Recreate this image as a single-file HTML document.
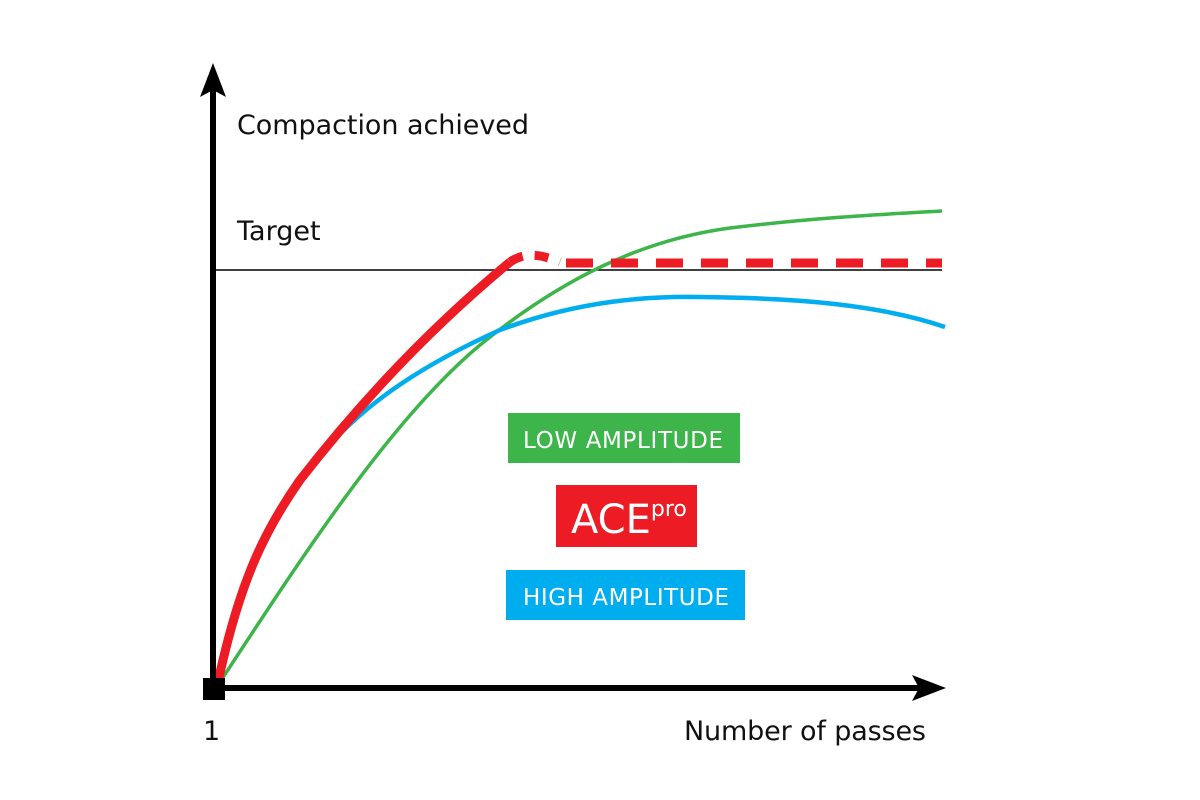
<!DOCTYPE html>
<html><head><meta charset="utf-8"><style>
html,body{margin:0;padding:0;background:#fff;}
svg{display:block;}
text{font-family:"DejaVu Sans","Liberation Sans",sans-serif;}
</style></head><body>
<svg width="1200" height="800" viewBox="0 0 1200 800" xmlns="http://www.w3.org/2000/svg">
<rect width="1200" height="800" fill="#fff"/>
<line x1="213" y1="270" x2="942" y2="270" stroke="#000" stroke-width="1.6"/>
<path d="M220,682 C300,560 390,420 480,345 C560,280 640,240 730,228 C820,217 890,214 942,211" fill="none" stroke="#3db54a" stroke-width="3.5"/>
<path d="M218,682 C240,580 265,530 300,480 C345,420 400,375 500,330 C580,300 650,296 700,297 C800,298 880,305 945,327" fill="none" stroke="#00aeef" stroke-width="4.5"/>
<path d="M218,682 C240,580 265,530 300,480 C370,390 440,320 510,262" fill="none" stroke="#ed1c24" stroke-width="9"/>
<path d="M510,262 C525,252 540,254 560,262" fill="none" stroke="#ed1c24" stroke-width="9" stroke-dasharray="14,12"/>
<line x1="566" y1="263" x2="942" y2="263" stroke="#ed1c24" stroke-width="9" stroke-dasharray="27,18"/>
<line x1="213" y1="688" x2="213" y2="90" stroke="#000" stroke-width="6"/>
<polygon points="213,63 200,97 213,90 226,97" fill="#000"/>
<line x1="213" y1="688" x2="920" y2="688" stroke="#000" stroke-width="6"/>
<polygon points="946,688 912,675 919,688 912,701" fill="#000"/>
<rect x="203" y="678" width="22" height="22" fill="#000"/>
<text x="237" y="134" font-size="27" fill="#111" textLength="292">Compaction achieved</text>
<text x="237" y="240" font-size="27" fill="#111">Target</text>
<text x="203" y="740" font-size="27" fill="#111">1</text>
<text x="684" y="740" font-size="27" fill="#111" textLength="242">Number of passes</text>
<rect x="508" y="413" width="232" height="50" fill="#3db54a"/>
<text x="523" y="448" font-size="23" fill="#fff" textLength="200">LOW AMPLITUDE</text>
<rect x="556" y="485" width="141" height="62" fill="#ed1c24"/>
<text x="571" y="533" font-size="40" fill="#fff">ACE<tspan font-size="22" dy="-17">pro</tspan></text>
<rect x="506" y="570" width="239" height="50" fill="#00aeef"/>
<text x="523" y="605" font-size="23" fill="#fff" textLength="206">HIGH AMPLITUDE</text>
</svg>
</body></html>
